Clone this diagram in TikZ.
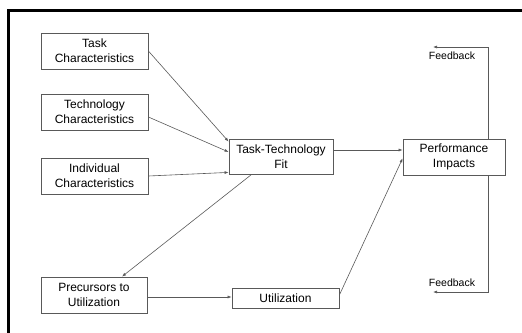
\documentclass[tikz,border=0pt]{standalone}
\usepackage{fontspec}
\setmainfont{Liberation Sans}
\usetikzlibrary{arrows.meta,calc}
\definecolor{edge}{gray}{0.35}
\begin{document}
\begin{tikzpicture}[x=1pt,y=-1pt,
  box/.style={draw=edge,line width=0.8pt,inner sep=0pt,align=center,
    font=\fontsize{12}{15}\selectfont},
  conn/.style={draw=edge,line width=0.6pt,-{Latex[length=4pt,width=3pt]}},
  fb/.style={font=\fontsize{10.5}{12}\selectfont,inner sep=0pt}]
\useasboundingbox (0,0) rectangle (522,332);
\begin{scope}
\clip (0,0) rectangle (522,332);
\draw[line width=3pt] (8.5,10.5) rectangle (540,350);
\end{scope}
\node[box,minimum width=107pt,minimum height=36pt] (task) at (94.5,51) {Task\\Characteristics};
\node[box,minimum width=107pt,minimum height=36pt] (tech) at (94.5,112) {Technology\\Characteristics};
\node[box,minimum width=107pt,minimum height=36pt] (indiv) at (94.5,176) {Individual\\Characteristics};
\node[box,minimum width=104pt,minimum height=35pt] (ttf) at (281,157) {Task-Technology\\Fit};
\node[box,minimum width=102pt,minimum height=36pt] (perf) at (454,157) {Performance\\Impacts};
\node[box,minimum width=106pt,minimum height=36pt] (prec) at (94,295) {Precursors to\\Utilization};
\node[box,minimum width=107pt,minimum height=20pt] (util) at (285.5,298) {Utilization};
\node[fb] (fbtop) at (452,56) {Feedback};
\node[fb] (fbbot) at (452,283) {Feedback};
\coordinate (ctop) at ($(perf.north)+(34,0)$);
\coordinate (cbot) at ($(perf.south)+(34,0)$);
\draw[conn] (task.east) -- ($(ttf.north west)+(0,2.5)$);
\draw[conn] ($(tech.east)+(0,5)$) -- ($(ttf.west)+(0,-5)$);
\draw[conn] (indiv.east) -- ($(ttf.south west)+(0,-2.5)$);
\draw[conn] ($(ttf.south)+(-30,0)$) -- ($(prec.north)+(28,0)$);
\draw[conn] ($(ttf.east)+(0,-7)$) -- ($(perf.west)+(0,-7)$);
\draw[conn] ($(prec.east)+(0,2)$) -- ($(util.west)+(0,-1)$);
\draw[conn] ($(util.east)+(0,-3)$) -- ($(perf.south west)+(0,-17)$);
\draw[conn] (ctop) -- (ctop |- 0,47) -- (433,47);
\draw[conn] (cbot) -- (cbot |- 0,292) -- (433,292);
\end{tikzpicture}
\end{document}
